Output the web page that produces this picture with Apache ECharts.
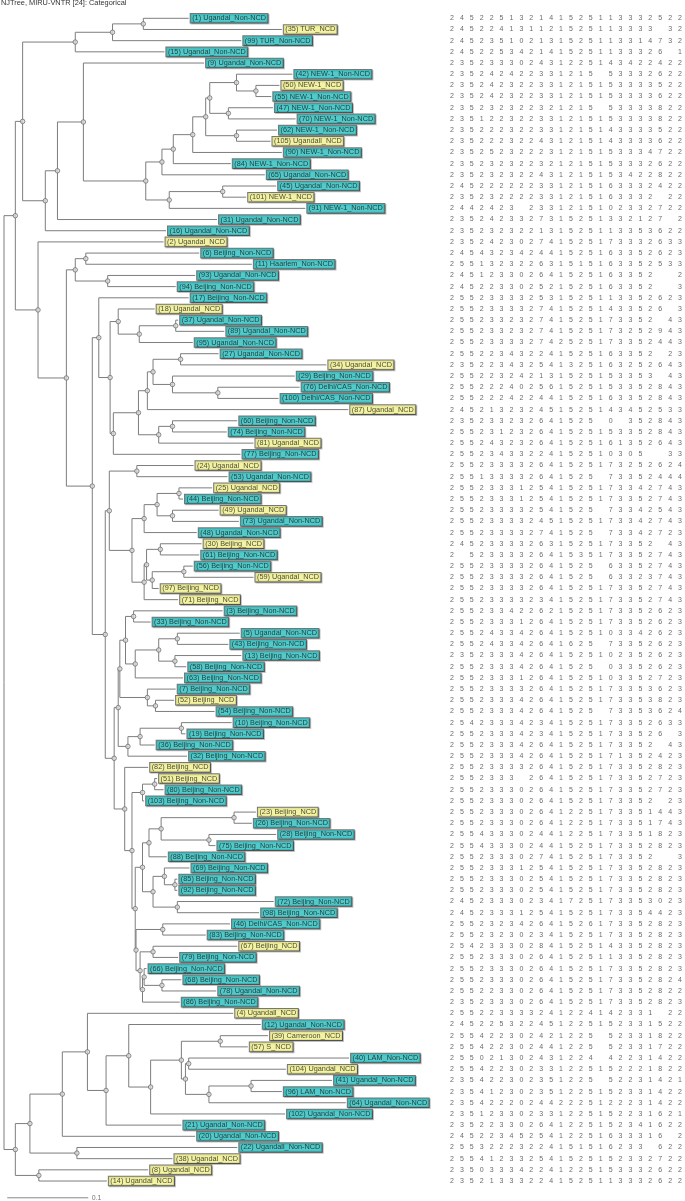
<!DOCTYPE html>
<html><head><meta charset="utf-8">
<script src="https://cdn.jsdelivr.net/npm/echarts@6/dist/echarts.min.js"></script>
<style>html,body{margin:0;padding:0;background:#fff}#c{width:685px;height:1201px}</style>
</head><body><div id="c"></div>
<script>
const title = "NJTree, MIRU-VNTR [24]: Categorical";
const scaleBarLength = 0.1;

const leafLabels = [
"(1) Ugandal_Non-NCD","(35) TUR_NCD","(99) TUR_Non-NCD","(15) Ugandal_Non-NCD","(9) Ugandal_Non-NCD",
"(42) NEW-1_Non-NCD","(50) NEW-1_NCD","(55) NEW-1_Non-NCD","(47) NEW-1_Non-NCD","(70) NEW-1_Non-NCD",
"(62) NEW-1_Non-NCD","(105) Ugandall_NCD","(90) NEW-1_Non-NCD","(84) NEW-1_Non-NCD","(65) Ugandal_Non-NCD",
"(45) Ugandal_Non-NCD","(101) NEW-1_NCD","(91) NEW-1_Non-NCD","(31) Ugandal_Non-NCD","(16) Ugandal_Non-NCD",
"(2) Ugandal_NCD","(6) Beijing_Non-NCD","(11) Haarlem_Non-NCD","(93) Ugandal_Non-NCD","(94) Beijing_Non-NCD",
"(17) Beijing_Non-NCD","(18) Ugandal_NCD","(37) Ugandal_Non-NCD","(89) Ugandal_Non-NCD","(95) Ugandal_Non-NCD",
"(27) Ugandal_Non-NCD","(34) Ugandal_NCD","(29) Beijing_Non-NCD","(76) Delhi/CAS_Non-NCD","(100) Delhi/CAS_Non-NCD",
"(87) Ugandal_NCD","(60) Beijing_Non-NCD","(74) Beijing_Non-NCD","(81) Ugandal_NCD","(77) Beijing_Non-NCD",
"(24) Ugandal_NCD","(53) Ugandal_Non-NCD","(25) Ugandal_NCD","(44) Beijing_Non-NCD","(49) Ugandal_NCD",
"(73) Ugandal_Non-NCD","(48) Ugandal_Non-NCD","(30) Beijing_NCD","(61) Beijing_Non-NCD","(56) Beijing_Non-NCD",
"(59) Ugandal_NCD","(97) Beijing_NCD","(71) Beijing_NCD","(3) Beijing_Non-NCD","(33) Beijing_Non-NCD",
"(5) Ugandal_Non-NCD","(43) Beijing_Non-NCD","(13) Beijing_Non-NCD","(58) Beijing_Non-NCD","(63) Beijing_Non-NCD",
"(7) Beijing_Non-NCD","(52) Beijing_NCD","(54) Beijing_Non-NCD","(10) Beijing_Non-NCD","(19) Beijing_Non-NCD",
"(36) Beijing_Non-NCD","(32) Beijing_Non-NCD","(82) Beijing_NCD","(51) Beijing_NCD","(80) Beijing_Non-NCD",
"(103) Beijing_Non-NCD","(23) Beijing_NCD","(26) Beijing_Non-NCD","(28) Beijing_Non-NCD","(75) Beijing_Non-NCD",
"(88) Beijing_Non-NCD","(69) Beijing_Non-NCD","(85) Beijing_Non-NCD","(92) Beijing_Non-NCD","(72) Beijing_Non-NCD",
"(98) Beijing_Non-NCD","(46) Delhi/CAS_Non-NCD","(83) Beijing_Non-NCD","(67) Beijing_NCD","(79) Beijing_Non-NCD",
"(66) Beijing_Non-NCD","(68) Beijing_Non-NCD","(78) Ugandal_Non-NCD","(86) Beijing_Non-NCD","(4) Ugandall_NCD",
"(12) Ugandal_Non-NCD","(39) Cameroon_NCD","(57) S_NCD","(40) LAM_Non-NCD","(104) Ugandal_NCD",
"(41) Ugandal_Non-NCD","(96) LAM_Non-NCD","(64) Ugandal_Non-NCD","(102) Ugandal_Non-NCD","(21) Ugandal_Non-NCD",
"(20) Ugandal_Non-NCD","(22) Ugandall_Non-NCD","(38) Ugandal_NCD","(8) Ugandal_NCD","(14) Ugandal_NCD"
];

// distance from the root to each leaf tip, in display order
const leafDepth = [
0.228,0.343,0.293,0.198,0.247,0.356,0.340,0.330,0.332,0.360,
0.337,0.329,0.343,0.280,0.322,0.336,0.299,0.372,0.263,0.200,
0.197,0.241,0.306,0.236,0.212,0.228,0.186,0.215,0.272,0.233,
0.265,0.398,0.359,0.365,0.339,0.425,0.288,0.275,0.308,0.292,
0.234,0.276,0.257,0.221,0.265,0.290,0.238,0.244,0.241,0.233,
0.308,0.191,0.215,0.270,0.181,0.291,0.277,0.293,0.225,0.221,
0.212,0.210,0.260,0.281,0.224,0.186,0.226,0.178,0.189,0.197,
0.173,0.311,0.306,0.336,0.261,0.201,0.229,0.214,0.214,0.333,
0.315,0.279,0.249,0.288,0.215,0.176,0.219,0.262,0.217,0.283,
0.317,0.326,0.301,0.426,0.348,0.405,0.343,0.422,0.347,0.219,
0.236,0.288,0.208,0.178,0.127
];

// internal nodes: [name, distance from root, child, child]; numbers = leaf positions (1-based)
const clades = [
["root",0.000,"I","E5"],["I",0.014,"D","J"],["D",0.023,"C","F"],["C",0.088,"B",4],["B",0.134,"A",3],["A",0.172,1,2],
["F",0.051,"H",20],["H",0.066,"E",19],["E",0.098,5,"G"],["G",0.175,"GA","GB"],["GA",0.195,"GD",15],["GD",0.209,"GE",14],
["GE",0.233,"GF",13],["GF",0.249,"GG","GH"],["GG",0.254,"GI","GJ"],["GI",0.287,6,"GK"],["GK",0.311,7,8],["GJ",0.277,9,10],
["GH",0.287,11,12],["GB",0.204,"GC",18],["GC",0.270,16,17],["J",0.042,21,"K"],["K",0.077,"L","M"],["L",0.088,"N","O"],
["N",0.101,22,23],["O",0.128,24,25],["M",0.109,"P","Q"],["P",0.117,26,"R"],["R",0.131,"S","T"],["S",0.141,27,"U"],
["U",0.167,"V",30],["V",0.212,28,29],["T",0.135,"W",40],["W",0.166,"X","Y"],["X",0.177,"Z",36],["Z",0.184,"AB","AA"],
["AB",0.218,31,32],["AA",0.208,33,"AC"],["AC",0.264,34,35],["Y",0.191,"AD",39],["AD",0.208,37,38],["Q",0.125,"BA","BB"],
["BA",0.130,"BC","BD"],["BC",0.164,41,42],["BD",0.158,"BE","BF"],["BE",0.173,"BG",47],["BG",0.189,"BH","BI"],["BH",0.216,43,44],
["BI",0.208,45,46],["BF",0.173,"BJ",53],["BJ",0.176,"BK","BL"],["BK",0.193,48,49],["BL",0.183,"BM",52],["BM",0.222,50,51],
["BB",0.136,"CA","CB"],["CA",0.141,"CC","CD"],["CC",0.143,"CE","CF"],["CE",0.150,"CG","CH"],["CG",0.160,54,55],["CH",0.162,"CI",60],
["CI",0.191,"CJ","CK"],["CJ",0.214,56,57],["CK",0.211,58,59],["CF",0.177,61,"CL"],["CL",0.187,62,63],["CD",0.153,"CM",67],
["CM",0.168,"CN",66],["CN",0.219,64,65],["CB",0.149,68,"CO"],["CO",0.158,"DE","CP"],["DE",0.171,"DF",71],["DF",0.186,69,70],
["CP",0.162,"CQ","CR"],["CQ",0.171,"CS","CT"],["CS",0.179,"CU",76],["CU",0.194,"CV","CW"],["CV",0.284,72,73],["CW",0.253,74,75],
["CT",0.184,"CX","CY"],["CX",0.198,77,"CZ"],["CZ",0.211,78,79],["CY",0.214,80,81],["CR",0.163,"DA","DB"],["DA",0.196,82,83],
["DB",0.168,"DC","DD"],["DC",0.184,84,85],["DD",0.171,"DG",89],["DG",0.173,86,"DH"],["DH",0.195,87,88],
["E5",0.014,"E3","E6"],["E3",0.032,"E2","E4"],["E2",0.072,"E1",101],["E1",0.103,90,"EA"],["EA",0.126,"EB",100],
["EB",0.154,91,"EC"],["EC",0.181,"ED",99],["ED",0.219,"EE","EF"],["EE",0.267,92,93],["EF",0.224,"EG","EH"],
["EG",0.228,94,95],["EH",0.253,"EI",98],["EI",0.305,96,97],["E4",0.090,102,103],["E6",0.043,104,105]
];

// MIRU-VNTR 24-locus profiles, "-" = no value
const profiles = [
"245225132141525113332522","245224131121525113333-32","245235102131525113314732","2452253421415251133326-1",
"235233302431225143422422","235242422331215-53332622","235242322331215153333522","235242322331215153333622",
"235232322321215-53333822","235122322331215153333822","235222322331215143333522","235222322431215143333622",
"235252322231215153334722","235232322321215153332622","235232322431215153422822","245222222331215163332422",
"235232222331215163332-22","2442423-2331215102332722","2352423327315251332127-2","235232322131525113353622",
"235242302741525173332633","245432342441525163352623","255132322631515163352533","245123302641525163352--2",
"245223302521525163352--3","255233332531525113352623","2552333327415251433526-3","255233232741525173352-43",
"255233232741525173252943","255233332742525173352443","255223432241525163352-23","235223432541325163252643",
"255223242131525153353-43","255222402561525153352843","255222422441525163352843","245213232451525143452533",
"235233232641525-0-352843","255231232641525153352843","255243232641525161352643","25523433224152510305--33",
"255233332641525173252624","255133332641525-73352444","255233312541525173342743","255233312541525173352743",
"255233332541525-73342543","255233332451525173342743","255233332741525-73342723","245233332631525173352-43",
"2-5233332641535173352743","255233332641525-63352743","255233332641525-63323743","255233332641525173352743",
"255233332341525173352743","255233422621525173352623","255233312641525173352623","255243342641525103342623",
"255243342641625-73352623","235233342641525102352623","255233342641525-03352623","255233312641525103352723",
"255233332641525173353623","255233342641525173353823","255233342641525-73353624","254233342341525173352633",
"2552333423415251733526-3","255233342641525173352-43","255233342641525171352423","255233332641525173352823",
"2552333-2641525173352723","255233302641525173352723","255233302641525173352-23","255233302641225173351443",
"255233302641225173351743","255433302441225173351823","255433302441525173352823","255233302741525173352--3",
"255233312541525173352823","255233302541525173352823","255233302541525173352823","245233302341725173353023",
"245233312541525173354423","255232342641526173352823","255232302341525173352823","254233302841525143352823",
"255233302641525113352823","255233302641525173352823","255233302641525173352824","255223302641525173352822",
"235233302641525173352823","255223333241224142331-22","245225322451225152331522","255422302421225-52331822",
"255422302441225-52331722","255021302431224-42231422","255422302331225152221822","235422302351225-52231421",
"235412302351225152331422","235422202442225122231422","235123302331225152231621","235223302641225152341622",
"2452234525412251633316-2","25532223224151516233-622","255412332541525152332722","235033342241225153332622",
"235213332241525113332622"
];

// ---------- layout ----------
const W = 685, H = 1201;
const ROW0 = 18.3, ROWH = 11.18;     // first leaf row and row pitch (px)
const X0 = 4, PXPERUNIT = 810;       // root x (px) and px per distance unit
const FONT = "Liberation Sans";
const CYAN = "#33cccc", YELLOW = "#ffff99";

const cladeMap = {};
clades.forEach(c => { cladeMap[c[0]] = c; });
const pos = {};
function resolve(ref) {
  if (typeof ref === "number") return { x: leafDepth[ref - 1], y: ref - 1 };
  if (pos[ref]) return pos[ref];
  const c = cladeMap[ref];
  const a = resolve(c[2]), b = resolve(c[3]);
  pos[ref] = { x: c[1], y: (a.y + b.y) / 2, a: a, b: b };
  return pos[ref];
}
resolve("root");

const branchData = clades.map(c => {
  const p = pos[c[0]];
  return { coords: [[p.a.x, p.a.y], [p.x, p.a.y], [p.x, p.b.y], [p.b.x, p.b.y]] };
});
const nodeData = clades.filter(c => c[0] !== "root").map(c => [pos[c[0]].x, pos[c[0]].y]);

const leafData = leafLabels.map((lab, i) => {
  const ncd = /_NCD$/.test(lab) && !/Non-NCD$/.test(lab);
  return { value: [leafDepth[i], i], name: lab, label: { backgroundColor: ncd ? YELLOW : CYAN } };
});

const digitData = [];
profiles.forEach((row, i) => {
  for (let c = 0; c < row.length; c++) {
    if (row[c] !== "-") digitData.push([c, i, row[c]]);
  }
});

const barY = leafLabels.length + 0.5;
const barStart = 0.004;
const scaleData = [{ coords: [[barStart, barY], [barStart + scaleBarLength, barY]] }];

const yMin = -ROW0 / ROWH, yMax = (H - ROW0) / ROWH;

const chart = echarts.init(document.getElementById("c"), null, { renderer: "canvas", width: W, height: H });
chart.setOption({
  animation: false,
  backgroundColor: "#fff",
  title: {
    text: title, left: 1, top: -1, padding: 0,
    textStyle: { fontSize: 7.4, fontWeight: "normal", color: "#333", fontFamily: FONT }
  },
  grid: [
    { left: 0, top: 0, width: W, height: H },
    { left: 447, top: 0, width: 241, height: H }
  ],
  xAxis: [
    { type: "value", gridIndex: 0, min: -X0 / PXPERUNIT, max: (W - X0) / PXPERUNIT, show: false },
    { type: "value", gridIndex: 1, min: -0.5, max: 23.5, show: false }
  ],
  yAxis: [
    { type: "value", gridIndex: 0, inverse: true, min: yMin, max: yMax, show: false },
    { type: "value", gridIndex: 1, inverse: true, min: yMin, max: yMax, show: false }
  ],
  series: [
    {
      type: "lines", coordinateSystem: "cartesian2d", xAxisIndex: 0, yAxisIndex: 0,
      polyline: true, silent: true, data: branchData,
      lineStyle: { color: "#7d7d7d", width: 1, opacity: 1 }, z: 1
    },
    {
      type: "scatter", xAxisIndex: 0, yAxisIndex: 0, silent: true, data: nodeData,
      symbol: "circle", symbolSize: 4.5,
      itemStyle: { color: "#dcdcdc", borderColor: "#666", borderWidth: 0.9 }, z: 3
    },
    {
      type: "scatter", xAxisIndex: 0, yAxisIndex: 0, silent: true, data: leafData,
      symbolSize: 1, itemStyle: { color: "rgba(0,0,0,0)" }, z: 4,
      label: {
        show: true, position: "right", distance: 1.5,
        formatter: p => p.name,
        fontSize: 7.3, fontFamily: FONT, color: "#1a1a1a",
        borderColor: "#555", borderWidth: 1, padding: [1, 1.5, 0, 1.5], lineHeight: 7.6,
        shadowColor: "rgba(0,0,0,0.3)", shadowOffsetX: 1, shadowOffsetY: 1, shadowBlur: 0
      }
    },
    {
      type: "scatter", xAxisIndex: 1, yAxisIndex: 1, silent: true, data: digitData,
      symbolSize: 1, itemStyle: { color: "rgba(0,0,0,0)" }, z: 4,
      label: {
        show: true, position: "inside", formatter: p => p.value[2],
        fontSize: 7, fontFamily: FONT, color: "#444"
      }
    },
    {
      type: "lines", coordinateSystem: "cartesian2d", xAxisIndex: 0, yAxisIndex: 0,
      polyline: true, silent: true, data: scaleData,
      lineStyle: { color: "#888", width: 1, opacity: 1 }, z: 1
    },
    {
      type: "scatter", xAxisIndex: 0, yAxisIndex: 0, silent: true,
      data: [[barStart + scaleBarLength, barY]],
      symbolSize: 1, itemStyle: { color: "rgba(0,0,0,0)" },
      label: { show: true, position: "right", distance: 3, formatter: String(scaleBarLength),
        fontSize: 7, fontFamily: FONT, color: "#555" }
    }
  ]
});
</script>
</body></html>
